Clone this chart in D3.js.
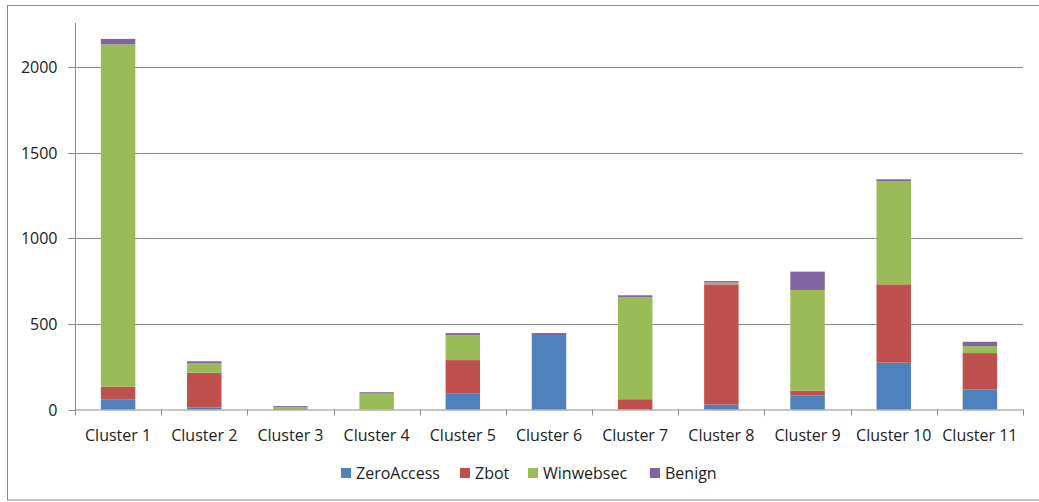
<!DOCTYPE html>
<html><head><meta charset="utf-8">
<script src="https://cdn.jsdelivr.net/npm/d3@7"></script>
<style>body{margin:0;background:#fff}svg{display:block}</style>
</head><body>
<svg id="c" width="1039" height="502"></svg>
<script>
const categories = ["Cluster 1","Cluster 2","Cluster 3","Cluster 4","Cluster 5","Cluster 6","Cluster 7","Cluster 8","Cluster 9","Cluster 10","Cluster 11"];
const seriesNames = ["ZeroAccess","Zbot","Winwebsec","Benign"];
const zeroAccess = [60, 11, 0, 0, 92, 430, 0, 28, 83, 274, 118];
const zbot       = [73, 204, 3, 0, 197, 0, 60, 704, 27, 458, 212];
const winwebsec  = [2002, 57, 10, 93, 147, 0, 598, 10, 589, 604, 41];
const benign     = [32, 10, 7, 8, 11, 17, 10, 9, 107, 10, 25];
const yTicks = [0, 500, 1000, 1500, 2000];
const colors = ["#4F81BD","#C0504D","#9BBB59","#8064A2"];

(function(){
const table = categories.map((c,i)=>({cat:c, ZeroAccess:zeroAccess[i], Zbot:zbot[i], Winwebsec:winwebsec[i], Benign:benign[i]}));
const stacked = d3.stack().keys(seriesNames)(table);

const svg = d3.select("#c");
const font = "'Open Sans', sans-serif";
const pLeft = 75, pRight = 1023, pTop = 23, pBottom = 409.5;

svg.append("rect").attr("x",7.5).attr("y",5.5).attr("width",1040).attr("height",494.5)
  .attr("fill","none").attr("stroke","#8c8c8c").attr("stroke-width",1);

const x = d3.scaleBand().domain(categories).range([pLeft, pRight]).paddingInner(0.6).paddingOuter(0.3);
const xb = d3.scaleBand().domain(categories).range([pLeft, pRight]);
const y = d3.scaleLinear().domain([0, 2260]).range([pBottom, pTop]);

svg.append("g").selectAll("line").data(yTicks.filter(t=>t>0)).join("line")
  .attr("x1", pLeft-7).attr("x2", pRight).attr("y1", d=>Math.round(y(d))+0.5).attr("y2", d=>Math.round(y(d))+0.5)
  .attr("stroke","#8c8c8c").attr("stroke-width",1);

svg.append("g").selectAll("g").data(stacked).join("g").attr("fill",(d,i)=>colors[i])
  .selectAll("rect").data(d=>d).join("rect")
  .attr("x", d=>x(d.data.cat)).attr("width", x.bandwidth())
  .attr("y", d=>y(d[1])).attr("height", d=>Math.max(0, y(d[0])-y(d[1])));

const yAxis = d3.axisLeft(y).tickValues(yTicks).tickSize(7).tickPadding(11).tickFormat(d3.format("d"));
const gy = svg.append("g").attr("transform",`translate(${pLeft+0.5},0)`).call(yAxis);
gy.select(".domain").attr("stroke","#8c8c8c").attr("d",`M0,${pTop}V${pBottom}`);
gy.selectAll(".tick line").attr("stroke","#8c8c8c");
gy.selectAll(".tick").attr("transform", d=>`translate(0,${Math.round(y(d))+0.5})`);
gy.selectAll("text").attr("font-family",font).attr("font-size",16).attr("fill","#222");

const gx = svg.append("g").attr("transform",`translate(0,${pBottom})`);
gx.append("line").attr("x1",pLeft).attr("x2",pRight+0.5).attr("y1",0.5).attr("y2",0.5).attr("stroke","#8c8c8c");
const bounds = categories.map(c=>xb(c)).concat([pRight]);
gx.selectAll("line.tk").data(bounds).join("line").attr("class","tk")
  .attr("x1",d=>Math.round(d)+0.5).attr("x2",d=>Math.round(d)+0.5).attr("y1",0).attr("y2",6)
  .attr("stroke","#8c8c8c");
gx.selectAll("text").data(categories).join("text")
  .attr("x", d=>xb(d)+xb.bandwidth()/2).attr("y", 31)
  .attr("text-anchor","middle").attr("font-family",font).attr("font-size",16).attr("fill","#222")
  .text(d=>d);

const legendX = [341, 460, 528, 650];
const lg = svg.append("g");
seriesNames.forEach((s,i)=>{
  lg.append("rect").attr("x",legendX[i]).attr("y",468).attr("width",10).attr("height",10).attr("fill",colors[i]);
  lg.append("text").attr("x",legendX[i]+15).attr("y",479).attr("font-family",font).attr("font-size",16)
    .attr("fill","#222").text(s);
});
})();
</script>
</body></html>
